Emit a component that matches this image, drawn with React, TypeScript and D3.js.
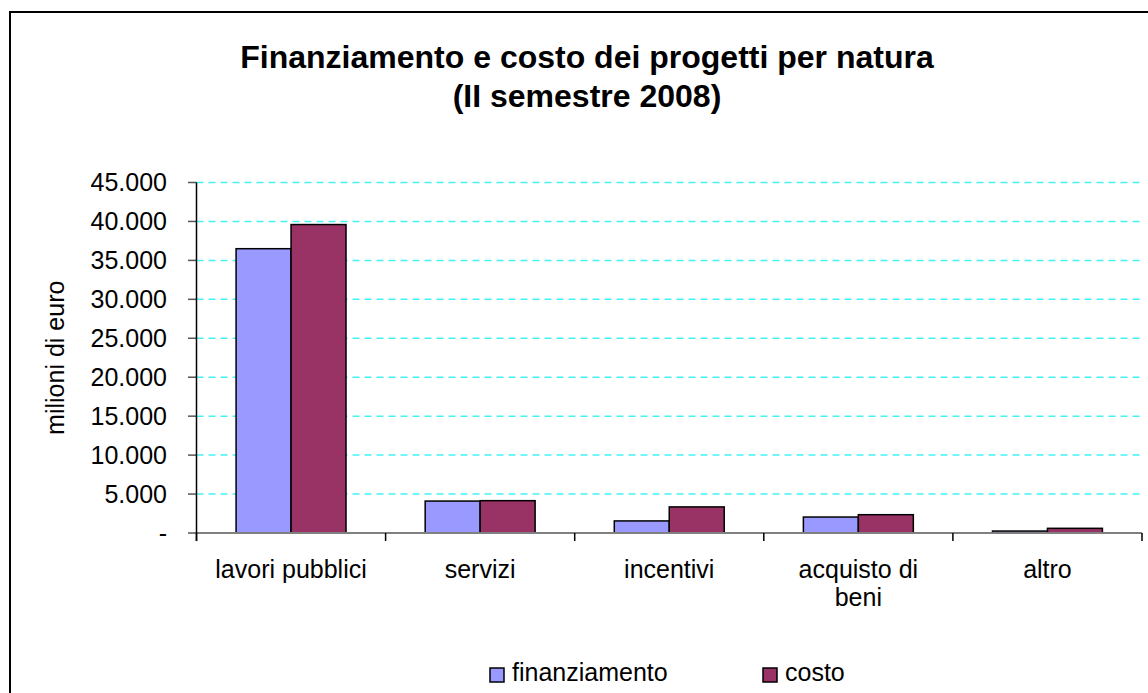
import React from "react";
import * as d3 from "d3";

const categories = ["lavori pubblici", "servizi", "incentivi", "acquisto di beni", "altro"];
const categoryLines = [["lavori pubblici"], ["servizi"], ["incentivi"], ["acquisto di", "beni"], ["altro"]];
const seriesNames = ["finanziamento", "costo"];
const finanziamento = [36500, 4100, 1550, 2050, 250];
const costo = [39600, 4150, 3350, 2350, 600];
const yTicks = [0, 5000, 10000, 15000, 20000, 25000, 30000, 35000, 40000, 45000];
const yTickLabels = ["-", "5.000", "10.000", "15.000", "20.000", "25.000", "30.000", "35.000", "40.000", "45.000"];
const colors = ["#9999FF", "#993366"];

export default function App() {
  const W = 1148, H = 693;
  const left = 196.5, right = 1142, top = 182.5, bottom = 533;
  const x0 = d3.scaleBand<string>().domain(categories).range([left, right]).padding(0);
  const x1 = d3.scaleBand<string>().domain(seriesNames).range([0, x0.bandwidth()]).paddingInner(0).paddingOuter(0.72);
  const y = d3.scaleLinear().domain([0, 45000]).range([bottom, top]);
  const values = [finanziamento, costo];
  const font = "Arial, 'Liberation Sans', sans-serif";
  const boundaries = categories.map((c) => x0(c)!).concat([right]);

  return (
    <svg width={W} height={H} style={{ position: "absolute", left: 0, top: 0 }} fontFamily={font}>
      <rect x={0} y={0} width={W} height={H} fill="#fff" />
      <rect x={10} y={12} width={1150} height={700} fill="#fff" stroke="#000" strokeWidth={2} />
      <text x={587} y={68} textAnchor="middle" fontSize={32} fontWeight="bold">Finanziamento e costo dei progetti per natura</text>
      <text x={587} y={107} textAnchor="middle" fontSize={32} fontWeight="bold">(II semestre 2008)</text>

      {yTicks.filter((t) => t > 0).map((t) => (
        <line key={"g" + t} x1={left} x2={right} y1={y(t)} y2={y(t)} stroke="#44F2F2" strokeWidth={1.5} strokeDasharray="7,5" />
      ))}

      {yTicks.map((t, i) => (
        <g key={"yt" + t}>
          <line x1={188} x2={left} y1={y(t)} y2={y(t)} stroke="#555" strokeWidth={1.5} />
          <text x={167} y={y(t)} dy="0.35em" textAnchor="end" fontSize={25}>{yTickLabels[i]}</text>
        </g>
      ))}

      <text transform={`translate(64,${(top + bottom) / 2}) rotate(-90)`} textAnchor="middle" fontSize={25}>milioni di euro</text>

      {categories.map((c, ci) => (
        <g key={c}>
          {seriesNames.map((s, si) => {
            const v = values[si][ci];
            return (
              <rect key={s} x={x0(c)! + x1(s)!} y={y(v)} width={x1.bandwidth()} height={bottom - y(v)}
                fill={colors[si]} stroke="#000" strokeWidth={1.5} />
            );
          })}
        </g>
      ))}

      <line x1={188} x2={right} y1={bottom} y2={bottom} stroke="#808080" strokeWidth={2} />
      <line x1={left} x2={left} y1={top} y2={541} stroke="#000" strokeWidth={1.5} />
      {boundaries.map((b, i) => (
        <line key={"xt" + i} x1={b} x2={b} y1={bottom} y2={541} stroke="#000" strokeWidth={1.5} />
      ))}

      {categories.map((c, ci) => (
        <text key={"xl" + c} x={x0(c)! + x0.bandwidth() / 2} y={578} textAnchor="middle" fontSize={25}>
          {categoryLines[ci].map((line, li) => (
            <tspan key={li} x={x0(c)! + x0.bandwidth() / 2} dy={li === 0 ? 0 : 28}>{line}</tspan>
          ))}
        </text>
      ))}

      {seriesNames.map((s, si) => {
        const lx = si === 0 ? 490 : 763;
        return (
          <g key={"lg" + s}>
            <rect x={lx} y={668} width={14} height={14} fill={colors[si]} stroke="#000" strokeWidth={1.5} />
            <text x={lx + 22} y={681} fontSize={25}>{s}</text>
          </g>
        );
      })}
    </svg>
  );
}
